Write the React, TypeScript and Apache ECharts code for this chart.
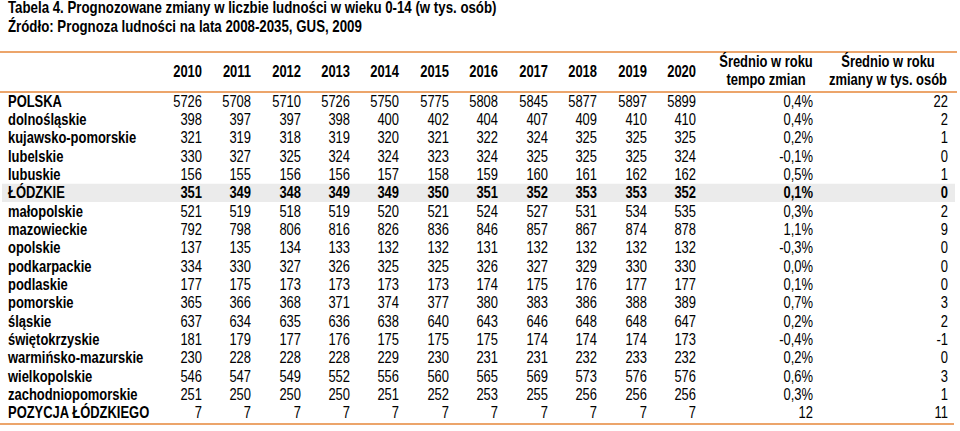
import React, { useEffect, useRef } from "react";
import * as echarts from "echarts";

const titleLines = [
  "Tabela 4. Prognozowane zmiany w liczbie ludności w wieku 0-14 (w tys. osób)",
  "Źródło: Prognoza ludności na lata 2008-2035, GUS, 2009",
];
const years = ["2010", "2011", "2012", "2013", "2014", "2015", "2016", "2017", "2018", "2019", "2020"];
const extraHeaders = [
  ["Średnio w roku", "tempo zmian"],
  ["Średnio w roku", "zmiany w tys. osób"],
];
const regions = [
  "POLSKA", "dolnośląskie", "kujawsko-pomorskie", "lubelskie", "lubuskie", "ŁÓDZKIE",
  "małopolskie", "mazowieckie", "opolskie", "podkarpackie", "podlaskie", "pomorskie",
  "śląskie", "świętokrzyskie", "warmińsko-mazurskie", "wielkopolskie", "zachodniopomorskie",
  "POZYCJA ŁÓDZKIEGO",
];
const highlightedRow = "ŁÓDZKIE";

const v2010 = [5726, 398, 321, 330, 156, 351, 521, 792, 137, 334, 177, 365, 637, 181, 230, 546, 251, 7];
const v2011 = [5708, 397, 319, 327, 155, 349, 519, 798, 135, 330, 175, 366, 634, 179, 228, 547, 250, 7];
const v2012 = [5710, 397, 318, 325, 156, 348, 518, 806, 134, 327, 173, 368, 635, 177, 228, 549, 250, 7];
const v2013 = [5726, 398, 319, 324, 156, 349, 519, 816, 133, 326, 173, 371, 636, 176, 228, 552, 250, 7];
const v2014 = [5750, 400, 320, 324, 157, 349, 520, 826, 132, 325, 173, 374, 638, 175, 229, 556, 251, 7];
const v2015 = [5775, 402, 321, 323, 158, 350, 521, 836, 132, 325, 173, 377, 640, 175, 230, 560, 252, 7];
const v2016 = [5808, 404, 322, 324, 159, 351, 524, 846, 131, 326, 174, 380, 643, 175, 231, 565, 253, 7];
const v2017 = [5845, 407, 324, 325, 160, 352, 527, 857, 132, 327, 175, 383, 646, 174, 231, 569, 255, 7];
const v2018 = [5877, 409, 325, 325, 161, 353, 531, 867, 132, 329, 176, 386, 648, 174, 232, 573, 256, 7];
const v2019 = [5897, 410, 325, 325, 162, 353, 534, 874, 132, 330, 177, 388, 648, 174, 233, 576, 256, 7];
const v2020 = [5899, 410, 325, 324, 162, 352, 535, 878, 132, 330, 177, 389, 647, 173, 232, 576, 256, 7];
const tempoZmian = ["0,4%", "0,4%", "0,2%", "-0,1%", "0,5%", "0,1%", "0,3%", "1,1%", "-0,3%", "0,0%", "0,1%", "0,7%", "0,2%", "-0,4%", "0,2%", "0,6%", "0,3%", "12"];
const zmianyTys = ["22", "2", "1", "0", "1", "0", "2", "9", "0", "0", "0", "3", "2", "-1", "0", "3", "1", "11"];

// layout (pixel ruler on the x axis)
const labelX = 8;
const colRight = [202, 251, 301, 350, 399, 449, 498, 548, 597, 647, 696, 813, 948];
const extraCenter = [766, 888];

const FONT = '"Liberation Sans", Arial, sans-serif';
const NARROW = 0.81;
const TITLE_NARROW = 0.83;
const ORANGE = "#eca56b";

export default function App() {
  const ref = useRef<HTMLDivElement>(null);
  useEffect(() => {
    if (!ref.current) return;
    const chart = echarts.init(ref.current, undefined, { renderer: "svg" });
    const columns: (number | string)[][] = [
      v2010, v2011, v2012, v2013, v2014, v2015, v2016, v2017, v2018, v2019, v2020,
      tempoZmian, zmianyTys,
    ];
    const cellData: any[] = [];
    regions.forEach((r, ri) => {
      cellData.push({ value: [labelX, ri], text: r, col: -1 });
      columns.forEach((c, ci) => {
        cellData.push({ value: [colRight[ci], ri], text: String(c[ri]), col: ci });
      });
    });
    const hlIndex = regions.indexOf(highlightedRow);

    const graphic: any[] = [];
    titleLines.forEach((t, i) => {
      graphic.push({
        type: "text", x: 8, y: 8 + i * 18.5, scaleX: TITLE_NARROW,
        style: { text: t, font: `bold 16px ${FONT}`, fill: "#000", align: "left", verticalAlign: "middle" },
      });
    });
    [52, 92, 424].forEach((y, i) => {
      graphic.push({
        type: "line",
        shape: { x1: 0, y1: y, x2: i === 2 ? 954 : 957, y2: y },
        style: { stroke: ORANGE, lineWidth: 2 },
      });
    });
    years.forEach((yr, i) => {
      graphic.push({
        type: "text", x: colRight[i], y: 72, scaleX: NARROW,
        style: { text: yr, font: `bold 16px ${FONT}`, fill: "#000", align: "right", verticalAlign: "middle" },
      });
    });
    extraHeaders.forEach((lines, i) => {
      lines.forEach((ln, j) => {
        graphic.push({
          type: "text", x: extraCenter[i], y: 62 + j * 18, scaleX: NARROW,
          style: { text: ln, font: `bold 16px ${FONT}`, fill: "#000", align: "center", verticalAlign: "middle" },
        });
      });
    });

    chart.setOption({
      animation: false,
      grid: { left: 0, right: 0, top: 92, height: 330 },
      xAxis: { type: "value", min: 0, max: 960, show: false },
      yAxis: { type: "category", data: regions, inverse: true, show: false },
      graphic,
      series: [
        {
          type: "custom",
          silent: true,
          data: [[0, hlIndex]],
          renderItem: (params: any, api: any) => {
            const p = api.coord([0, api.value(1)]);
            const h = api.size([0, 1])[1];
            return {
              type: "rect",
              shape: { x: 2, y: p[1] - h / 2, width: 953, height: h },
              style: { fill: "#ebebeb" },
            };
          },
        },
        {
          type: "custom",
          silent: true,
          data: cellData,
          renderItem: (params: any, api: any) => {
            const item = cellData[params.dataIndex];
            const row = api.value(1);
            const p = api.coord([api.value(0), row]);
            const bold = item.col < 0 || row === hlIndex;
            return {
              type: "text",
              x: p[0],
              y: p[1],
              scaleX: NARROW,
              style: {
                text: item.text,
                font: `${bold ? "bold " : ""}16px ${FONT}`,
                fill: "#000",
                align: item.col < 0 ? "left" : "right",
                verticalAlign: "middle",
              },
            };
          },
        },
      ],
    });
    return () => chart.dispose();
  }, []);
  return (
    <div
      ref={ref}
      style={{ position: "fixed", left: 0, top: 0, width: 960, height: 431, background: "#fff" }}
    />
  );
}
